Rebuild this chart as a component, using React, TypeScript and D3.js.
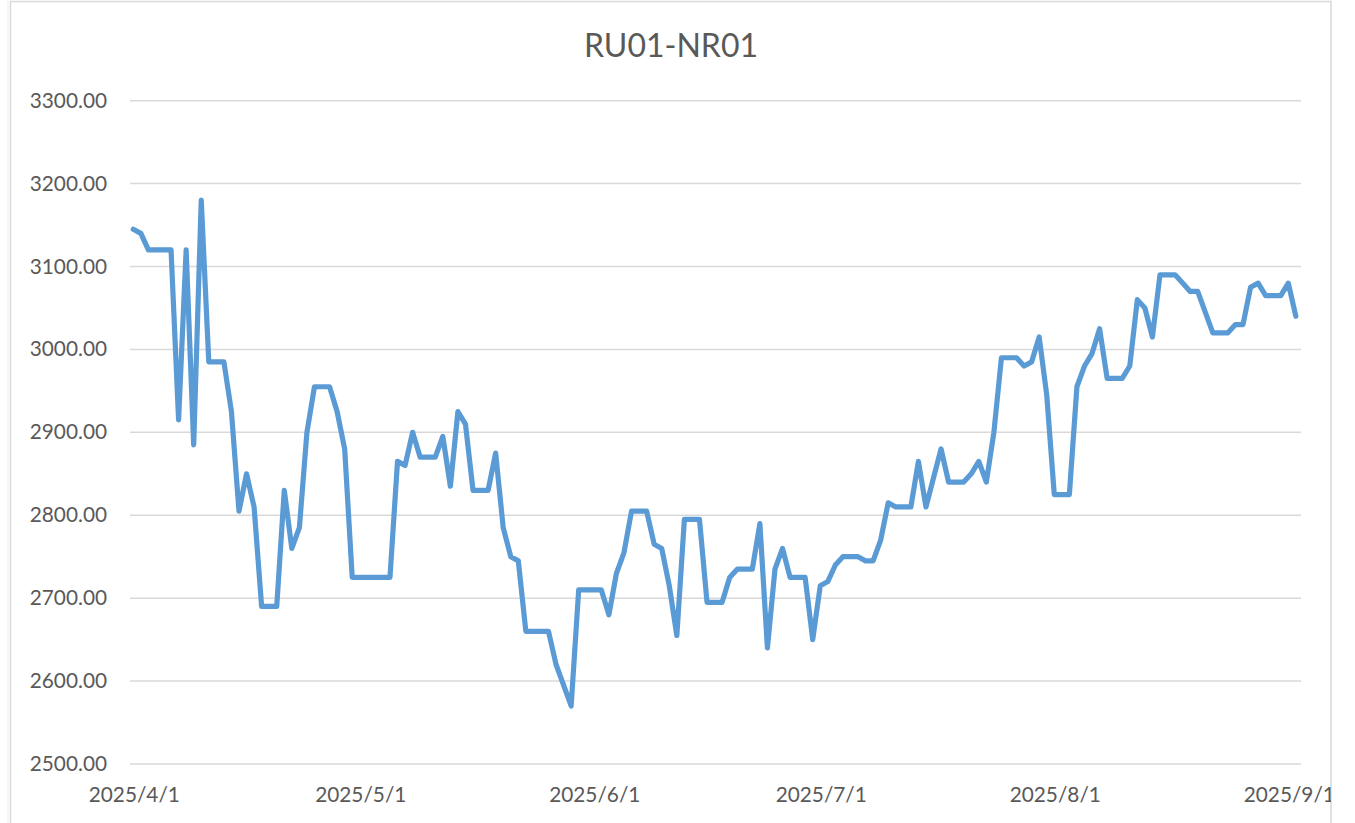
import React from "react";
import * as d3 from "d3";

const TITLE = "RU01-NR01";
const START_DATE = "2025-04-01";
// daily values from 2025/4/1 to 2025/9/2
const APR = [3145, 3140, 3120, 3120, 3120, 3120, 2915, 3120, 2885, 3180, 2985, 2985, 2985, 2925, 2805, 2850, 2810, 2690, 2690, 2690, 2830, 2760, 2785, 2900, 2955, 2955, 2955, 2925, 2880, 2725];
const MAY = [2725, 2725, 2725, 2725, 2725, 2865, 2860, 2900, 2870, 2870, 2870, 2895, 2835, 2925, 2910, 2830, 2830, 2830, 2875, 2785, 2750, 2745, 2660, 2660, 2660, 2660, 2620, 2595, 2570, 2710, 2710];
const JUN = [2710, 2710, 2680, 2730, 2755, 2805, 2805, 2805, 2765, 2760, 2715, 2655, 2795, 2795, 2795, 2695, 2695, 2695, 2725, 2735, 2735, 2735, 2790, 2640, 2735, 2760, 2725, 2725, 2725, 2650];
const JUL = [2715, 2720, 2740, 2750, 2750, 2750, 2745, 2745, 2770, 2815, 2810, 2810, 2810, 2865, 2810, 2845, 2880, 2840, 2840, 2840, 2850, 2865, 2840, 2900, 2990, 2990, 2990, 2980, 2985, 3015, 2945];
const AUG = [2825, 2825, 2825, 2955, 2980, 2995, 3025, 2965, 2965, 2965, 2980, 3060, 3050, 3015, 3090, 3090, 3090, 3080, 3070, 3070, 3045, 3020, 3020, 3020, 3030, 3030, 3075, 3080, 3065, 3065, 3065];
const SEP = [3080, 3040];
const Y_TICKS = [2500, 2600, 2700, 2800, 2900, 3000, 3100, 3200, 3300];
const X_TICK_DATES = ["2025-04-01", "2025-05-01", "2025-06-01", "2025-07-01", "2025-08-01", "2025-09-01"];

const W = 1355;
const H = 823;
const FONT = "Lato, 'Open Sans', sans-serif";
const TEXT = "#595959";
const GRID = "#D9D9D9";
const LINE = "#5B9BD5";

export default function App() {
  const values = [...APR, ...MAY, ...JUN, ...JUL, ...AUG, ...SEP];
  const start = d3.utcParse("%Y-%m-%d")(START_DATE) as Date;
  const data = values.map((v, i) => ({ date: d3.utcDay.offset(start, i), value: v }));
  const xTicks = X_TICK_DATES.map((s) => d3.utcParse("%Y-%m-%d")(s) as Date);

  const x = d3.scaleUtc().domain([xTicks[0], xTicks[xTicks.length - 1]]).range([133.3, 1288.3]);
  const y = d3.scaleLinear().domain([2500, 3300]).range([764, 100.7]);
  const gridLeft = 130;
  const gridRight = 1301;

  const line = d3
    .line<{ date: Date; value: number }>()
    .x((d) => x(d.date))
    .y((d) => y(d.value));

  const fmtDate = d3.utcFormat("%Y/%-m/%-d");
  const fmtY = d3.format(".2f");

  return (
    <div style={{ position: "fixed", left: 0, top: 0, width: W, height: H, background: "#fff" }}>
      <svg width={W} height={H} style={{ display: "block" }}>
        <defs>
          <clipPath id="frameClip">
            <rect x={10} y={1} width={1321} height={H} />
          </clipPath>
        </defs>
        <rect x={0} y={0} width={W} height={H} fill="#fff" />
        <line x1={8} y1={0} x2={8} y2={H} stroke="#EDEDED" strokeWidth={1} />
        <rect x={10.5} y={1.5} width={1320.5} height={H + 10} fill="#fff" stroke={GRID} strokeWidth={1.5} />
        <g clipPath="url(#frameClip)">
          <text x={671} y={57} textAnchor="middle" fontFamily={FONT} fontSize={32} fill={TEXT}>
            {TITLE}
          </text>
          {Y_TICKS.map((t) => (
            <g key={t}>
              <line x1={gridLeft} x2={gridRight} y1={y(t)} y2={y(t)} stroke={GRID} strokeWidth={1.5} />
              <text x={107} y={y(t) + 7} textAnchor="end" fontFamily={FONT} fontSize={20.8} fill={TEXT}>
                {fmtY(t)}
              </text>
            </g>
          ))}
          {xTicks.map((t, i) => (
            <text key={i} x={x(t) + 1} y={802} textAnchor="middle" fontFamily={FONT} fontSize={20.8} fill={TEXT}>
              {fmtDate(t)}
            </text>
          ))}
          <path
            d={line(data) || ""}
            fill="none"
            stroke={LINE}
            strokeWidth={5.2}
            strokeLinejoin="round"
            strokeLinecap="round"
          />
        </g>
      </svg>
    </div>
  );
}
